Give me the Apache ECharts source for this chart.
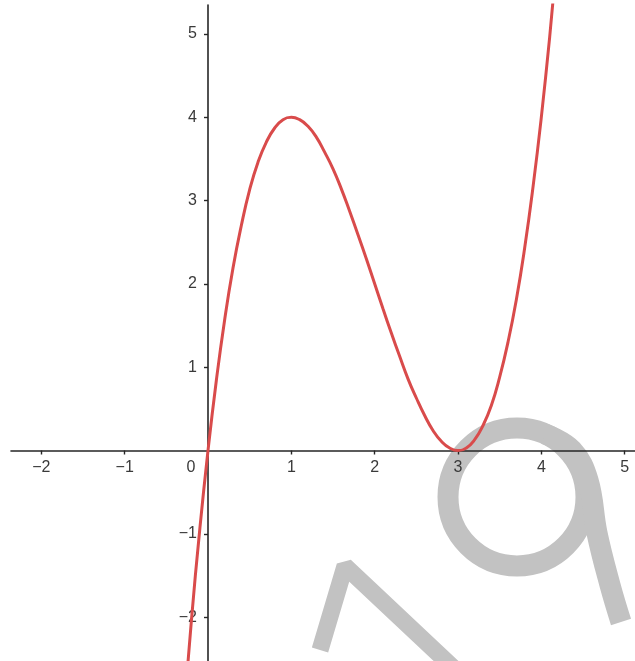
<!DOCTYPE html>
<html>
<head>
<meta charset="utf-8">
<script src="https://cdn.jsdelivr.net/npm/echarts@6/dist/echarts.min.js"></script>
<style>
  html, body { margin: 0; padding: 0; background: #fff; }
  #chart { width: 635px; height: 661px; }
</style>
</head>
<body>
<div id="chart"></div>
<script>
// curve points: [x, y]
const curveX = [-0.3, -0.2, -0.1, 0, 0.1, 0.2, 0.3, 0.4, 0.5, 0.6, 0.7, 0.8, 0.9, 1.0,
  1.1, 1.2, 1.3, 1.4, 1.5, 1.6, 1.7, 1.8, 1.9, 2.0, 2.1, 2.2, 2.3, 2.4, 2.5, 2.6, 2.7,
  2.8, 2.9, 3.0, 3.1, 3.2, 3.3, 3.4, 3.5, 3.6, 3.7, 3.8, 3.9, 4.0, 4.1, 4.2]
const curveY = [-3.27, -2.05, -0.96, 0, 0.84, 1.57, 2.19, 2.70, 3.13, 3.46, 3.70, 3.87, 3.97, 4.00,
  3.97, 3.89, 3.76, 3.58, 3.38, 3.14, 2.87, 2.59, 2.30, 2.00, 1.70, 1.41, 1.13, 0.86, 0.63, 0.42, 0.24,
  0.11, 0.03, 0, 0.03, 0.13, 0.30, 0.54, 0.88, 1.30, 1.81, 2.43, 3.16, 4.00, 4.96, 6.05]

const xTicks = [-2, -1, 1, 2, 3, 4, 5]
const xLabels = [-2, -1, 0, 1, 2, 3, 4, 5]
const yTicks = [-2, -1, 1, 2, 3, 4, 5]

const X_MIN = -2.364, X_MAX = 5.124
const Y_MIN = -2.526, Y_MAX = 5.346

const RED = '#d94b4b'
const AXIS = '#262626'
const LABEL = '#3a3a3a'
const WM = '#c2c2c2'   // watermark gray

const W = 635, H = 661
const G = { left: 11, right: 0, top: 5, bottom: 0 }
// move the axes onto the zero lines (onZero puts labels at the grid edge in v6)
const plotW = W - G.left - G.right
const plotH = H - G.top - G.bottom
const yAxisShift = plotW * (0 - X_MIN) / (X_MAX - X_MIN)
const xAxisShift = plotH * (0 - Y_MIN) / (Y_MAX - Y_MIN)

const chart = echarts.init(document.getElementById('chart'))

const fmt = (v) => (v < 0 ? '\u2212' + Math.abs(v) : String(v))

chart.setOption({
  animation: false,
  grid: {
    ...G, containLabel: false,
    outerBounds: { left: -200, right: -200, top: -200, bottom: -200 },
  },
  xAxis: {
    type: 'value', min: X_MIN, max: X_MAX, splitNumber: 8,
    position: 'bottom', offset: -xAxisShift,
    axisLine: { onZero: false, lineStyle: { color: AXIS, width: 1.6 } },
    axisTick: { show: true, length: 4, customValues: xTicks, lineStyle: { color: AXIS, width: 1.4 } },
    axisLabel: {
      customValues: xLabels, margin: 9, color: LABEL, fontSize: 16,
      fontFamily: 'Liberation Sans, Arial, sans-serif',
      formatter: (v) => (v === 0 ? '{o|0}' : fmt(v)),
      rich: { o: { padding: [0, 34, 0, 0], fontSize: 16, color: LABEL } },
    },
    splitLine: { show: false },
  },
  yAxis: {
    type: 'value', min: Y_MIN, max: Y_MAX, splitNumber: 8,
    position: 'left', offset: -yAxisShift,
    axisLine: { onZero: false, lineStyle: { color: AXIS, width: 1.6 } },
    axisTick: { show: true, length: 4, customValues: yTicks, lineStyle: { color: AXIS, width: 1.4 } },
    axisLabel: {
      customValues: yTicks, margin: 11, color: LABEL, fontSize: 16,
      fontFamily: 'Liberation Sans, Arial, sans-serif',
      formatter: fmt,
    },
    splitLine: { show: false },
  },
  graphic: [
    // watermark strokes behind the plot
    { type: 'polyline', z: -10, silent: true,
      shape: { points: [[320, 650], [345, 566], [462, 676]] },
      style: { fill: null, stroke: WM, lineWidth: 17, lineJoin: 'bevel' } },
    { type: 'ellipse', z: -10, silent: true,
      shape: { cx: 517, cy: 497, rx: 69, ry: 69 },
      style: { fill: null, stroke: WM, lineWidth: 21 } },
    { type: 'polyline', z: -10, silent: true,
      shape: { points: [[545, 434], [572, 450], [588, 480], [597, 533], [610, 585], [621, 622]], smooth: 0.4 },
      style: { fill: null, stroke: WM, lineWidth: 21 } },
  ],
  series: [{
    type: 'line',
    data: curveX.map((x, i) => [x, curveY[i]]),
    smooth: true,
    showSymbol: false,
    clip: true,
    lineStyle: { color: RED, width: 3 },
    z: 5,
  }],
})
</script>
</body>
</html>
